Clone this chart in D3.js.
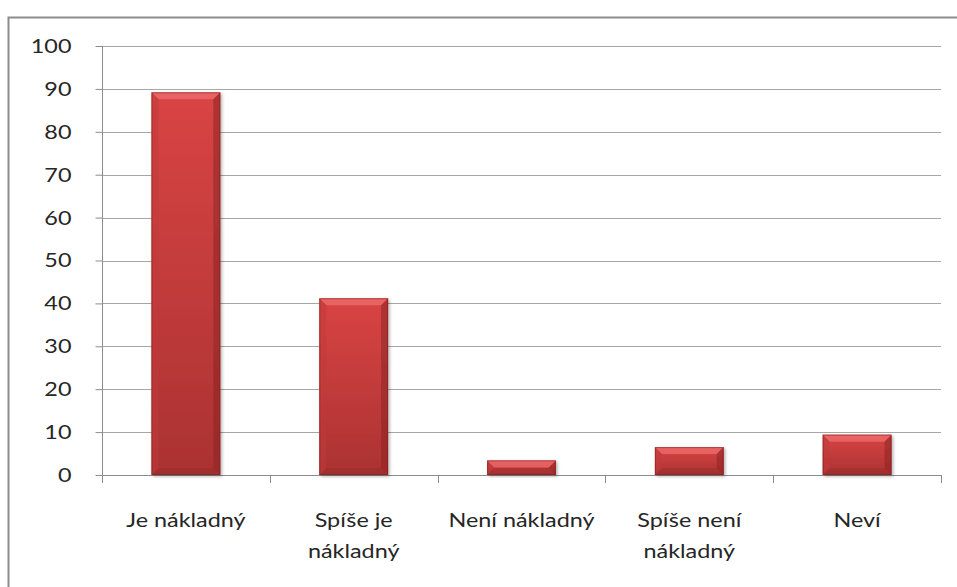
<!DOCTYPE html>
<html><head><meta charset="utf-8">
<script src="https://cdn.jsdelivr.net/npm/d3@7"></script>
<style>body{margin:0;background:#fff;}svg{display:block;}</style>
</head><body>
<script>
const categories = [["Je nákladný"], ["Spíše je", "nákladný"], ["Není nákladný"], ["Spíše není", "nákladný"], ["Neví"]];
const values = [89.2, 41.2, 3.4, 6.5, 9.4];
const yTicks = [0, 10, 20, 30, 40, 50, 60, 70, 80, 90, 100];

const W = 957, H = 587;
const FONT = "Lato, 'Open Sans', sans-serif";
const SX = 1.17;
const svg = d3.select("body").append("svg").attr("width", W).attr("height", H);
const defs = svg.append("defs");
const g1 = defs.append("linearGradient").attr("id", "bg").attr("x1", 0).attr("y1", 0).attr("x2", 0).attr("y2", 1);
g1.append("stop").attr("offset", "0%").attr("stop-color", "#d94444");
g1.append("stop").attr("offset", "100%").attr("stop-color", "#ab3232");
const f = defs.append("filter").attr("id", "sh").attr("x", "-20%").attr("y", "-20%").attr("width", "140%").attr("height", "140%");
f.append("feDropShadow").attr("dx", 1.5).attr("dy", 1.5).attr("stdDeviation", 1.5).attr("flood-color", "#000").attr("flood-opacity", 0.3);

// outer border
svg.append("path").attr("d", `M8.5,${H} V17.5 H${W}`).attr("fill", "none").attr("stroke", "#8c8c8c").attr("stroke-width", 2);

const x = d3.scaleBand().domain(d3.range(categories.length)).range([102, 941]).paddingInner(0.59).paddingOuter(0.295);
const y = d3.scaleLinear().domain([0, 100]).range([475, 46]);

const grid = svg.append("g");
grid.selectAll("line").data(yTicks.filter(d => d > 0)).join("line")
  .attr("x1", 102).attr("x2", 941)
  .attr("y1", d => Math.round(y(d)) + 0.5).attr("y2", d => Math.round(y(d)) + 0.5)
  .attr("stroke", "#a6a6a6").attr("stroke-width", 1);

// y axis
const yAxis = svg.append("g").attr("transform", "translate(102.5,0)")
  .call(d3.axisLeft(y).tickValues(yTicks).tickSize(7).tickPadding(24).tickFormat(d3.format("d")));
yAxis.select(".domain").attr("stroke", "#8c8c8c").attr("d", `M0,${y(100)}V${y(0)}`);
yAxis.selectAll(".tick line").attr("stroke", "#8c8c8c");
yAxis.selectAll(".tick text").each(function() {
  const t = d3.select(this);
  const xx = +t.attr("x");
  t.attr("x", null).attr("transform", `translate(${xx},0) scale(${SX},1)`);
}).attr("font-family", FONT).attr("font-size", 20).attr("fill", "#262626");

// x axis
const bounds = d3.range(categories.length + 1).map(i => 102 + i * (839 / categories.length));
svg.append("line").attr("x1", 102).attr("x2", 941).attr("y1", y(0) + 0.5).attr("y2", y(0) + 0.5).attr("stroke", "#8c8c8c");
svg.append("g").selectAll("line").data(bounds).join("line")
  .attr("x1", d => Math.round(d) + 0.5).attr("x2", d => Math.round(d) + 0.5)
  .attr("y1", y(0)).attr("y2", y(0) + 8).attr("stroke", "#8c8c8c");

// bars
const bars = svg.append("g").selectAll("g").data(values).join("g").attr("filter", "url(#sh)");
const bev = 7;
bars.each(function(v, i) {
  const gg = d3.select(this);
  const x0 = x(i), w = x.bandwidth(), y0 = y(v), y1 = y(0), h = y1 - y0;
  const b = Math.min(bev, h / 2, w / 2);
  gg.append("rect").attr("x", x0).attr("y", y0).attr("width", w).attr("height", h).attr("fill", "url(#bg)");
  gg.append("path").attr("d", `M${x0},${y0}H${x0 + w}L${x0 + w - b},${y0 + b}H${x0 + b}Z`).attr("fill", "#f07070").attr("opacity", 0.7);
  gg.append("path").attr("d", `M${x0},${y0}L${x0 + b},${y0 + b}V${y1 - b}L${x0},${y1}Z`).attr("fill", "#c03a3a").attr("opacity", 0.5);
  gg.append("path").attr("d", `M${x0 + w},${y0}L${x0 + w - b},${y0 + b}V${y1 - b}L${x0 + w},${y1}Z`).attr("fill", "#8e2424").attr("opacity", 0.55);
  gg.append("path").attr("d", `M${x0},${y1}L${x0 + b},${y1 - b}H${x0 + w - b}L${x0 + w},${y1}Z`).attr("fill", "#8a2626").attr("opacity", 0.3);
  gg.append("rect").attr("x", x0 + 0.5).attr("y", y0 + 0.5).attr("width", w - 1).attr("height", h - 1).attr("fill", "none").attr("stroke", "#7a1e1e").attr("stroke-opacity", 0.5);
});

// x labels
const lab = svg.append("g").selectAll("text").data(categories).join("text")
  .attr("transform", (d, i) => `translate(${x(i) + x.bandwidth() / 2},527) scale(${SX},1)`)
  .attr("text-anchor", "middle").attr("font-family", FONT).attr("font-size", 20).attr("fill", "#262626");
lab.selectAll("tspan").data(d => d).join("tspan")
  .attr("x", 0).attr("dy", (d, j) => j === 0 ? 0 : 31).text(d => d);
</script>
</body></html>
